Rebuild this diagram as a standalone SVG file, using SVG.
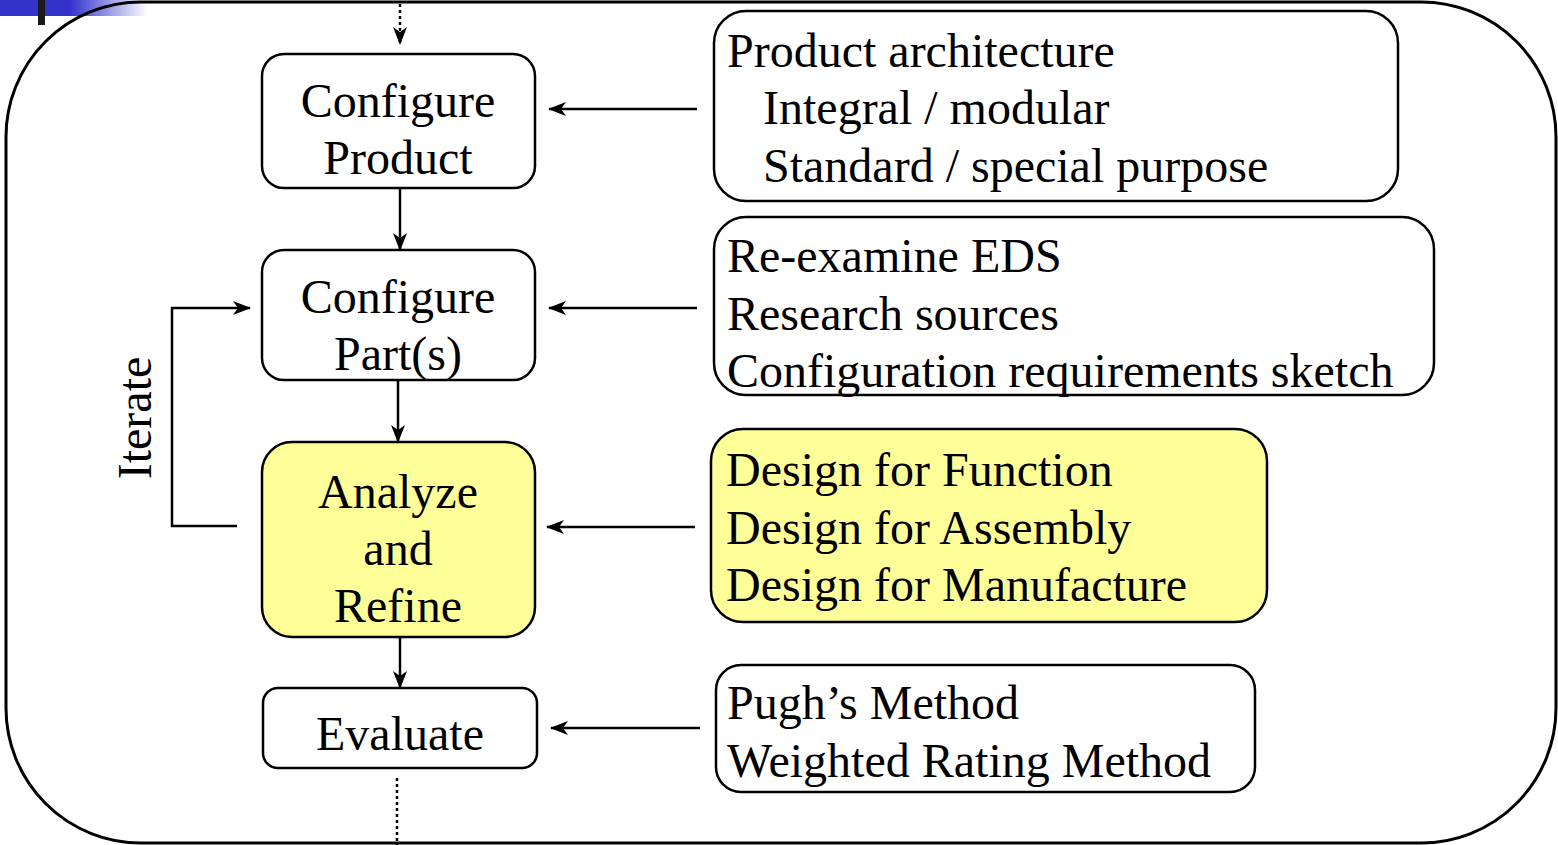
<svg xmlns="http://www.w3.org/2000/svg" width="1558" height="845" viewBox="0 0 1558 845">
<style>
.box{fill:#fff;stroke:#000;stroke-width:2.5}
.hl{fill:#ffff99;stroke:#000;stroke-width:2.5}
.t{font-family:"Liberation Serif","Times New Roman",serif;font-size:48px;fill:#000}
.c{text-anchor:middle}
.ln{fill:none;stroke:#000;stroke-width:2.5}
.dot{fill:none;stroke:#000;stroke-width:2.5;stroke-dasharray:3 3}
</style>
<defs>
<linearGradient id="g" x1="0" x2="1" y1="0" y2="0">
<stop offset="0" stop-color="#3333cc"/>
<stop offset="1" stop-color="#3333cc" stop-opacity="0"/>
</linearGradient>
<marker id="a" viewBox="0 0 18 14" refX="17" refY="7" markerWidth="18" markerHeight="14" markerUnits="userSpaceOnUse" orient="auto">
<path d="M0,0 L18,7 L0,14 L5,7 Z" fill="#000"/>
</marker>
</defs>
<g id="decor">
<rect x="0" y="0" width="70" height="16" fill="#3333cc"/>
<rect x="70" y="0" width="78" height="16" fill="url(#g)"/>
<rect x="38" y="0" width="7" height="25" fill="#1a1a1a"/>
</g>
<rect id="frame" x="6" y="2" width="1550" height="841" rx="135" ry="135" fill="none" stroke="#000" stroke-width="3"/>
<g id="connectors">
<line class="dot" x1="400" y1="4" x2="400" y2="44" marker-end="url(#a)"/>
<line class="ln" x1="400" y1="188" x2="400" y2="250" marker-end="url(#a)"/>
<line class="ln" x1="398" y1="380" x2="398" y2="442" marker-end="url(#a)"/>
<line class="ln" x1="400" y1="600" x2="400" y2="688" marker-end="url(#a)"/>
<line class="dot" x1="397" y1="778" x2="397" y2="845"/>
<line class="ln" x1="697" y1="109" x2="549" y2="109" marker-end="url(#a)"/>
<line class="ln" x1="697" y1="308" x2="549" y2="308" marker-end="url(#a)"/>
<line class="ln" x1="695" y1="527" x2="547" y2="527" marker-end="url(#a)"/>
<line class="ln" x1="700" y1="728" x2="551" y2="728" marker-end="url(#a)"/>
<polyline class="ln" points="237,526 172,526 172,308 250,308" marker-end="url(#a)"/>
<text class="t c" transform="translate(151,418) rotate(-90)">Iterate</text>
</g>
<g id="n1">
<rect class="box" x="262" y="54" width="273" height="134" rx="22"/>
<text class="t c" x="398" y="117">Configure</text>
<text class="t c" x="398" y="174">Product</text>
</g>
<g id="n2">
<rect class="box" x="262" y="250" width="273" height="130" rx="22"/>
<text class="t c" x="398" y="313">Configure</text>
<text class="t c" x="398" y="370">Part(s)</text>
</g>
<g id="n3">
<rect class="hl" x="262" y="442" width="273" height="195" rx="30"/>
<text class="t c" x="398" y="508">Analyze</text>
<text class="t c" x="398" y="565">and</text>
<text class="t c" x="398" y="622">Refine</text>
</g>
<g id="n4">
<rect class="box" x="263" y="688" width="274" height="80" rx="15"/>
<text class="t c" x="400" y="750">Evaluate</text>
</g>
<g id="r1">
<rect class="box" x="714" y="11" width="684" height="190" rx="32"/>
<text class="t" x="727" y="67">Product architecture</text>
<text class="t" x="763" y="124">Integral / modular</text>
<text class="t" x="763" y="182">Standard / special purpose</text>
</g>
<g id="r2">
<rect class="box" x="714" y="217" width="720" height="178" rx="32"/>
<text class="t" x="727" y="272">Re-examine EDS</text>
<text class="t" x="727" y="330">Research sources</text>
<text class="t" x="727" y="387">Configuration requirements sketch</text>
</g>
<g id="r3">
<rect class="hl" x="711" y="429" width="556" height="193" rx="32"/>
<text class="t" x="726" y="486">Design for Function</text>
<text class="t" x="726" y="544">Design for Assembly</text>
<text class="t" x="726" y="601">Design for Manufacture</text>
</g>
<g id="r4">
<rect class="box" x="716" y="665" width="539" height="127" rx="25"/>
<text class="t" x="727" y="719">Pugh’s Method</text>
<text class="t" x="727" y="777">Weighted Rating Method</text>
</g>
</svg>
